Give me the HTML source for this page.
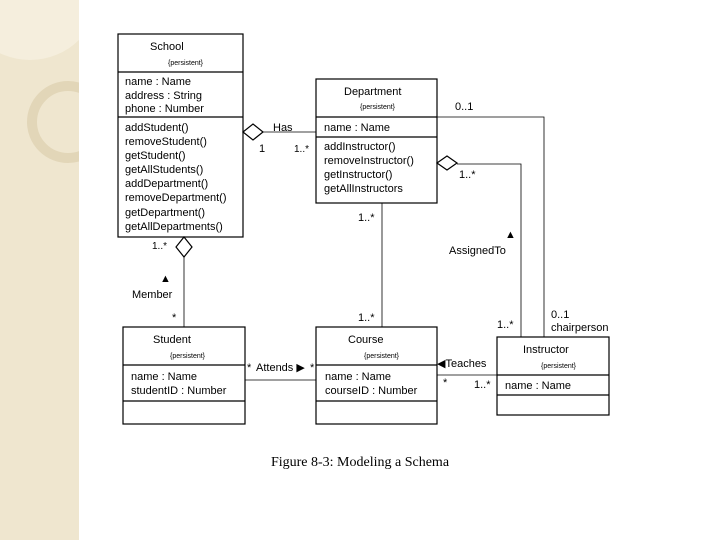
<!DOCTYPE html>
<html><head><style>body{margin:0;background:#fff}svg{display:block}</style></head><body>
<svg width="720" height="540" xmlns="http://www.w3.org/2000/svg" font-family="Liberation Sans, sans-serif">
<defs><clipPath id="c"><rect x="0" y="0" width="79" height="540"/></clipPath></defs>
<rect x="0" y="0" width="79" height="540" fill="#efe6cf"/>
<g clip-path="url(#c)">
<circle cx="30" cy="-10" r="70" fill="#f6f0e0" opacity="0.8"/>
<circle cx="68" cy="122" r="36" fill="none" stroke="#e2d6b8" stroke-width="10"/>
</g>
<g stroke="#000" fill="none" stroke-width="1.2">
<rect x="118" y="34" width="125" height="203"/>
<line x1="118" y1="72" x2="243" y2="72"/><line x1="118" y1="117" x2="243" y2="117"/>
<rect x="316" y="79" width="121" height="124"/>
<line x1="316" y1="117" x2="437" y2="117"/><line x1="316" y1="137" x2="437" y2="137"/>
<rect x="123" y="327" width="122" height="97"/>
<line x1="123" y1="365" x2="245" y2="365"/><line x1="123" y1="401" x2="245" y2="401"/>
<rect x="316" y="327" width="121" height="97"/>
<line x1="316" y1="365" x2="437" y2="365"/><line x1="316" y1="401" x2="437" y2="401"/>
<rect x="497" y="337" width="112" height="78"/>
<line x1="497" y1="375" x2="609" y2="375"/><line x1="497" y1="395" x2="609" y2="395"/>
<path d="M243 132 L253 124 L263 132 L253 140 Z"/>
<line x1="263" y1="132" x2="316" y2="132" stroke-width="0.8"/>
<path d="M437 117 H544 V337" stroke-width="0.8"/>
<path d="M437 163 L447 156 L457 163 L447 170 Z"/>
<path d="M457 164 H521 V337" stroke-width="0.8"/>
<line x1="382" y1="203" x2="382" y2="327" stroke-width="0.8"/>
<path d="M184 237 L192 247 L184 257 L176 247 Z"/>
<line x1="184" y1="257" x2="184" y2="327" stroke-width="0.8"/>
<line x1="245" y1="380" x2="316" y2="380" stroke-width="0.8"/>
<line x1="437" y1="375" x2="497" y2="375" stroke-width="0.8"/>
</g>
<g font-size="11" fill="#000">
<text x="150" y="50">School</text><text x="168" y="65" font-size="7">{persistent}</text>
<text x="125" y="85">name : Name</text><text x="125" y="99">address : String</text><text x="125" y="112">phone : Number</text>
<text x="125" y="131">addStudent()</text><text x="125" y="145">removeStudent()</text><text x="125" y="159">getStudent()</text><text x="125" y="173">getAllStudents()</text><text x="125" y="187">addDepartment()</text><text x="125" y="201">removeDepartment()</text><text x="125" y="216">getDepartment()</text><text x="125" y="230">getAllDepartments()</text>
<text x="344" y="95">Department</text><text x="360" y="109" font-size="7">{persistent}</text>
<text x="324" y="131">name : Name</text>
<text x="324" y="150">addInstructor()</text><text x="324" y="164">removeInstructor()</text><text x="324" y="178">getInstructor()</text><text x="324" y="192">getAllInstructors</text>
<text x="153" y="343">Student</text><text x="170" y="358" font-size="7">{persistent}</text>
<text x="131" y="380">name : Name</text><text x="131" y="394">studentID : Number</text>
<text x="348" y="343">Course</text><text x="364" y="358" font-size="7">{persistent}</text>
<text x="325" y="380">name : Name</text><text x="325" y="394">courseID : Number</text>
<text x="523" y="353">Instructor</text><text x="541" y="368" font-size="7">{persistent}</text>
<text x="505" y="389">name : Name</text>
<text x="273" y="131">Has</text><text x="259" y="152">1</text><text x="294" y="152" font-size="10">1..*</text>
<text x="455" y="110">0..1</text><text x="459" y="178">1..*</text>
<text x="505" y="238">▲</text><text x="449" y="254">AssignedTo</text>
<text x="358" y="221">1..*</text><text x="358" y="321">1..*</text>
<text x="152" y="249" font-size="10">1..*</text>
<text x="160" y="282">▲</text><text x="132" y="298">Member</text><text x="172" y="321">*</text>
<text x="247" y="371">*</text><text x="256" y="371">Attends ▶</text><text x="310" y="371">*</text>
<text x="437" y="367">◀Teaches</text><text x="443" y="386">*</text><text x="474" y="388">1..*</text>
<text x="497" y="328">1..*</text><text x="551" y="318">0..1</text><text x="551" y="331">chairperson</text>
</g>
<text x="360" y="466" text-anchor="middle" font-family="Liberation Serif, serif" font-size="14">Figure 8-3: Modeling a Schema</text>
</svg>
</body></html>
